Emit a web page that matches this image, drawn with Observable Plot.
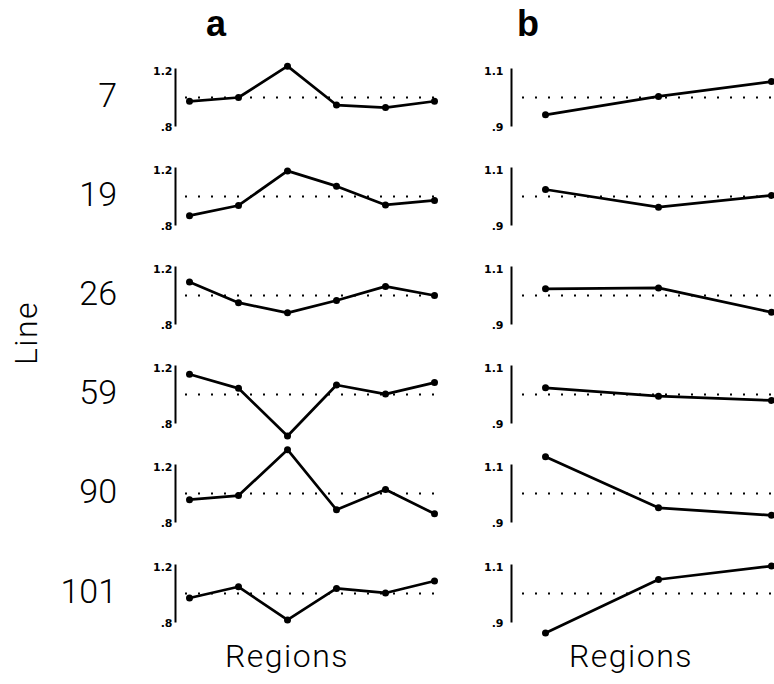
<!DOCTYPE html>
<html><head><meta charset="utf-8">
<script src="https://cdn.jsdelivr.net/npm/d3@7"></script>
<script src="https://cdn.jsdelivr.net/npm/@observablehq/plot@0.6"></script>
<style>
html,body{margin:0;padding:0;background:#fff;}
#root{position:relative;width:774px;height:684px;overflow:hidden;background:#fff;}
.lbl{position:absolute;font-family:Roboto,"DejaVu Sans",sans-serif;font-weight:300;color:#000;white-space:nowrap;line-height:1;}
.ttl{position:absolute;font-family:"Liberation Sans",Arial,sans-serif;font-weight:bold;color:#000;line-height:1;font-size:36px;}
.cell{position:absolute;}
</style></head><body><div id="root"></div>
<script>
// ---- data ----
const lines = ["7", "19", "26", "59", "90", "101"];
const regionsA = ["R1", "R2", "R3", "R4", "R5", "R6"];
const regionsB = ["R1", "R2", "R3"];
const valuesA = [
  [0.973, 1.000, 1.224, 0.946, 0.928, 0.973],
  [0.863, 0.936, 1.183, 1.074, 0.940, 0.972],
  [1.097, 0.949, 0.876, 0.964, 1.065, 1.000],
  [1.145, 1.044, 0.704, 1.068, 1.003, 1.085],
  [0.956, 0.985, 1.313, 0.884, 1.029, 0.855],
  [0.968, 1.048, 0.811, 1.036, 1.004, 1.089]
];
const valuesB = [
  [0.938, 1.004, 1.057],
  [1.025, 0.962, 1.004],
  [1.024, 1.027, 0.940],
  [1.024, 0.994, 0.979],
  [1.131, 0.949, 0.922],
  [0.859, 1.050, 1.098]
];
const domainA = [0.8, 1.2], ticksA = [0.8, 1.2], tickLabelsA = [".8", "1.2"];
const domainB = [0.9, 1.1], ticksB = [0.9, 1.1], tickLabelsB = [".9", "1.1"];
const reference = 1.0;
const panelTitles = ["a", "b"];
const axisTitleY = "Line", axisTitleX = "Regions";

// ---- layout ----
const root = document.getElementById("root");
const rowY = i => 96.5 + i * 99.2;

function cell(values, regions, domain, ticks, labels, o) {
  const data = regions.map((r, i) => ({region: r, value: values[i]}));
  return Plot.plot({
    width: o.width, height: 100,
    marginLeft: o.ml, marginRight: o.mr, marginTop: 22, marginBottom: 22,
    style: {background: "transparent", overflow: "visible"},
    x: {type: "point", domain: regions, range: o.xr, padding: 0, axis: null},
    y: {domain, axis: null, label: null},
    marks: [
      Plot.frame({anchor: "left", strokeWidth: 2}),
      Plot.axisY({ticks, label: null, tickFormat: d => labels[ticks.indexOf(d)], tickSize: 0, tickPadding: o.tp,
        fontSize: 11, fontWeight: "bold", fontFamily: "DejaVu Sans", dy: 2}),
      Plot.ruleY([reference], {insetLeft: o.il, insetRight: o.ir, strokeWidth: 2.2, strokeDasharray: "2 11"}),
      Plot.line(data, {x: "region", y: "value", strokeWidth: 2.7, stroke: "black"}),
      Plot.dot(data, {x: "region", y: "value", r: 3.5, fill: "black", stroke: "none"})
    ]
  });
}

lines.forEach((ln, i) => {
  const top = rowY(i) - 50;
  const a = cell(valuesA[i], regionsA, domainA, ticksA, tickLabelsA,
    {width: 320, ml: 45, mr: 2, xr: [59, 304], il: 10, ir: 13, tp: 3});
  a.classList.add("cell"); a.style.left = "130px"; a.style.top = top + "px";
  root.appendChild(a);
  const b = cell(valuesB[i], regionsB, domainB, ticksB, tickLabelsB,
    {width: 304, ml: 41, mr: 0, xr: [74, 301.7], il: 11, ir: 0, tp: 8});
  b.classList.add("cell"); b.style.left = "470px"; b.style.top = top + "px";
  root.appendChild(b);

  const t = document.createElement("div");
  t.className = "lbl"; t.textContent = ln;
  t.style.fontSize = "34px"; t.style.right = (774 - 117) + "px";
  t.style.top = (rowY(i) - 19) + "px";
  root.appendChild(t);
});

function addTitle(txt, cx, top) {
  const d = document.createElement("div");
  d.className = "ttl"; d.textContent = txt;
  d.style.left = cx + "px"; d.style.top = top + "px"; d.style.transform = "translateX(-50%)";
  root.appendChild(d);
}
addTitle(panelTitles[0], 216, 6);
addTitle(panelTitles[1], 528, 6);

function addRegions(cx) {
  const d = document.createElement("div");
  d.className = "lbl"; d.textContent = axisTitleX;
  d.style.fontSize = "32px"; d.style.letterSpacing = "1.5px";
  d.style.left = cx + "px"; d.style.top = "640px"; d.style.transform = "translateX(-50%)";
  root.appendChild(d);
}
addRegions(287);
addRegions(631);

const yl = document.createElement("div");
yl.className = "lbl"; yl.textContent = axisTitleY;
yl.style.fontSize = "32px"; yl.style.letterSpacing = "1.5px";
yl.style.left = "26px"; yl.style.top = "333px";
yl.style.transform = "translate(-50%,-50%) rotate(-90deg)";
root.appendChild(yl);
</script></body></html>
